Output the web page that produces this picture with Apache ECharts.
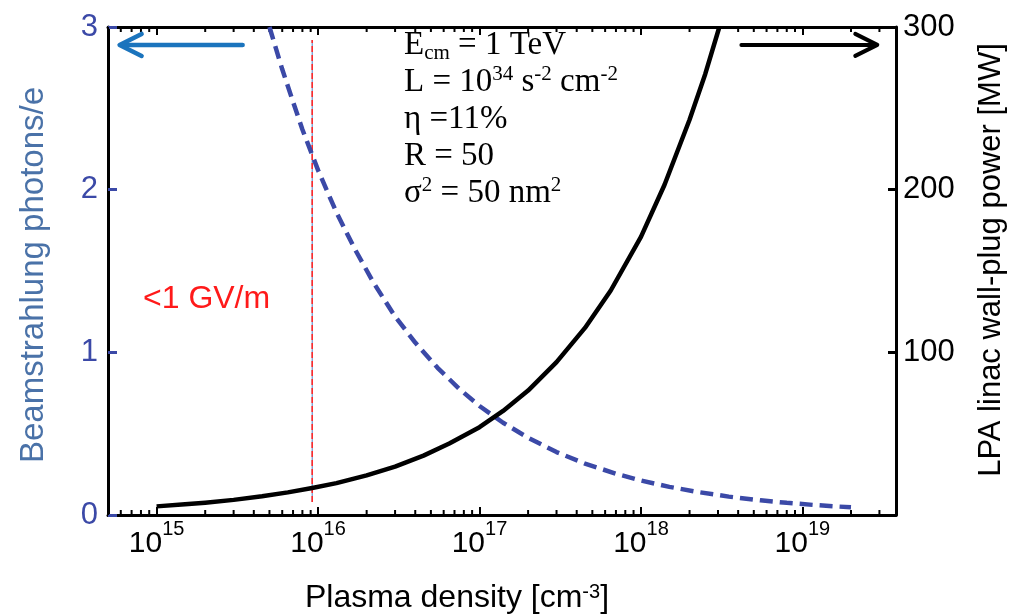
<!DOCTYPE html>
<html><head><meta charset="utf-8">
<script src="https://cdn.jsdelivr.net/npm/echarts@6/dist/echarts.min.js"></script>
<style>html,body{margin:0;padding:0;background:#fff}#c{width:1016px;height:615px}</style>
</head><body><div id="c"></div>
<script>
// ---- data ----
const densityBeam   = [5e15, 6e15, 7e15, 8e15, 1e16, 1.3e16, 1.7e16, 2.2e16, 3e16, 4e16, 5.5e16, 7.5e16, 1e17, 1.4e17, 2e17, 3e17, 4.5e17, 7e17, 1e18, 1.5e18, 2.2e18, 3.5e18, 5.5e18, 8e18, 1.2e19, 2e19];
const beamPhotons   = [3.0, 2.74, 2.54, 2.37, 2.12, 1.86, 1.63, 1.43, 1.22, 1.06, 0.905, 0.775, 0.67, 0.567, 0.475, 0.387, 0.316, 0.254, 0.212, 0.173, 0.143, 0.113, 0.09, 0.075, 0.061, 0.047];
const densityPower  = [1e15, 1.5e15, 2e15, 3e15, 4.5e15, 6.5e15, 9.2e15, 1.3e16, 2e16, 3e16, 4.5e16, 6.5e16, 1e17, 1.4e17, 2e17, 3e17, 4.5e17, 6.5e17, 1e18, 1.4e18, 2e18, 2.5e18, 3.06e18];
const wallPlugPower = [5.3, 6.6, 7.6, 9.3, 11.5, 13.9, 16.6, 19.6, 24.4, 29.8, 36.5, 44, 54, 64, 76.5, 94, 115, 138, 171, 203, 243, 271, 300];
const gradientLimitDensity = 9.2e15;       // "<1 GV/m" marker
const gradientLimitSpan = [0.08, 2.92];     // on left axis
const leftTicks = [0, 1, 2, 3];
const rightTicks = [0, 100, 200, 300];
const xDecades = [15, 16, 17, 18, 19];
const minorMantissas = [2, 3, 4, 5, 6, 7, 8, 9];
const minorDecades = [14, 15, 16, 17, 18, 19];
const arrowLeft  = [3.41e15, 2.89, 5.9e14, 2.89];   // tail x, tail y, tip x, tip y (left axis)
const arrowRight = [4.19e18, 289, 2.91e19, 289];    // (right axis)

const X_MIN = 5e14, X_MAX = 3.8e19;
const minorTicks = [];
minorDecades.forEach(d => minorMantissas.forEach(m => {
  const v = m * Math.pow(10, d);
  if (v > X_MIN && v < X_MAX) minorTicks.push([v, 0]);
}));

const SANS = 'Liberation Sans';
const SERIF = 'Liberation Serif';
const BLUE = '#3b49a7';

function xfmt(v) {
  const l = Math.log10(v), r = Math.round(l);
  if (Math.abs(l - r) > 1e-6 || xDecades.indexOf(r) < 0) return '';
  return '{b|10}{s|' + r + '}';
}

function arrowItem(color, lw) {
  return function (params, api) {
    const tail = api.coord([api.value(0), api.value(1)]);
    const tip = api.coord([api.value(2), api.value(3)]);
    const dir = Math.sign(tip[0] - tail[0]);
    return { type: 'group', children: [
      { type: 'line', shape: { x1: tail[0], y1: tail[1], x2: tip[0] - dir * 2, y2: tip[1] },
        style: { stroke: color, lineWidth: lw, lineCap: 'round' } },
      { type: 'polyline', shape: { points: [[tip[0] - dir * 22, tip[1] - 11], [tip[0], tip[1]], [tip[0] - dir * 22, tip[1] + 11]] },
        style: { stroke: color, lineWidth: lw, fill: null, lineCap: 'round', lineJoin: 'round' } }
    ]};
  };
}

const chart = echarts.init(document.getElementById('c'), null, { renderer: 'canvas' });
const option = {
  animation: false,
  backgroundColor: '#fff',
  grid: { left: 108, right: 120, top: 27, bottom: 100, containLabel: false, outerBoundsMode: 'none' },
  xAxis: [
    { type: 'log', logBase: 10, min: X_MIN, max: X_MAX, position: 'bottom',
      axisLine: { show: true, onZero: false, lineStyle: { color: '#000', width: 3 } },
      axisTick: { show: true, inside: true, length: 8, lineStyle: { color: '#000', width: 2 } },
      minorTick: { show: false }, splitLine: { show: false },
      axisLabel: { margin: 4, color: '#000', formatter: xfmt,
        rich: {
          b: { fontFamily: SANS, fontSize: 30, lineHeight: 40, verticalAlign: 'bottom', color: '#000' },
          s: { fontFamily: SANS, fontSize: 20, lineHeight: 22, verticalAlign: 'top', color: '#000' }
        } },
      name: '{p|Plasma density [cm}{s|-3}{p|]}', nameLocation: 'middle', nameGap: 65,
      nameTextStyle: { padding: [0, 90, 0, 0], rich: {
        p: { fontFamily: SANS, fontSize: 32, lineHeight: 36, color: '#000' },
        s: { fontFamily: SANS, fontSize: 20, lineHeight: 36, verticalAlign: 'top', color: '#000', padding: [2, 0, 0, 0] }
      } }
    },
    { type: 'log', logBase: 10, min: X_MIN, max: X_MAX, position: 'top',
      axisLine: { show: true, onZero: false, lineStyle: { color: '#000', width: 3 } },
      axisTick: { show: true, inside: true, length: 8, lineStyle: { color: '#000', width: 2 } },
      axisLabel: { show: false }, splitLine: { show: false }, minorTick: { show: false } }
  ],
  yAxis: [
    { type: 'value', min: leftTicks[0], max: leftTicks[leftTicks.length - 1], interval: 1, position: 'left',
      axisLine: { show: true, onZero: false, lineStyle: { color: '#000', width: 3 } },
      axisTick: { show: true, inside: true, length: 9, lineStyle: { color: BLUE, width: 3 } },
      splitLine: { show: false },
      axisLabel: { margin: 10, color: BLUE, fontFamily: SANS, fontSize: 31 },
      name: 'Beamstrahlung photons/e', nameLocation: 'middle', nameGap: 58, nameRotate: 90,
      nameTextStyle: { color: '#4a72a8', fontFamily: SANS, fontSize: 33, padding: [0, 8, 0, 0] }
    },
    { type: 'value', min: rightTicks[0], max: rightTicks[rightTicks.length - 1], interval: 100, position: 'right',
      axisLine: { show: true, onZero: false, lineStyle: { color: '#000', width: 3 } },
      axisTick: { show: true, inside: true, length: 8, lineStyle: { color: '#000', width: 3 } },
      splitLine: { show: false },
      axisLabel: { margin: 7, color: '#000', fontFamily: SANS, fontSize: 31,
        formatter: v => (v === 0 ? '' : String(v)) },
      name: 'LPA linac wall-plug power [MW]', nameLocation: 'middle', nameGap: 80, nameRotate: 90,
      nameTextStyle: { color: '#000', fontFamily: SANS, fontSize: 31, padding: [0, 0, 0, 22] }
    }
  ],
  series: [
    { name: 'minor ticks', type: 'custom', xAxisIndex: 0, yAxisIndex: 0, silent: true, clip: false,
      data: minorTicks, encode: { x: 0, y: 1 },
      renderItem: function (params, api) {
        const v = api.value(0);
        const b = api.coord([v, leftTicks[0]]);
        const t = api.coord([v, leftTicks[leftTicks.length - 1]]);
        return { type: 'group', children: [
          { type: 'line', shape: { x1: b[0], y1: b[1], x2: b[0], y2: b[1] - 5 }, style: { stroke: '#000', lineWidth: 2 } },
          { type: 'line', shape: { x1: t[0], y1: t[1], x2: t[0], y2: t[1] + 5 }, style: { stroke: '#000', lineWidth: 2 } }
        ]};
      } },
    { name: 'gradient limit underlay', type: 'line', xAxisIndex: 0, yAxisIndex: 0, silent: true,
      data: gradientLimitSpan.map(y => [gradientLimitDensity, y]), showSymbol: false,
      lineStyle: { color: '#4a7fc4', width: 1 } },
    { name: 'gradient limit', type: 'line', xAxisIndex: 0, yAxisIndex: 0, silent: true,
      data: gradientLimitSpan.map(y => [gradientLimitDensity, y]), showSymbol: false,
      lineStyle: { color: '#ff2a2a', width: 1.6, type: [6, 3] } },
    { name: 'Beamstrahlung', type: 'line', xAxisIndex: 0, yAxisIndex: 0, silent: true,
      data: densityBeam.map((x, i) => [x, beamPhotons[i]]), showSymbol: false, smooth: false,
      lineStyle: { color: BLUE, width: 4.5, type: [13, 7] } },
    { name: 'Wall-plug power', type: 'line', xAxisIndex: 0, yAxisIndex: 1, silent: true,
      data: densityPower.map((x, i) => [x, wallPlugPower[i]]), showSymbol: false, smooth: false,
      lineStyle: { color: '#000', width: 4.5, join: 'round' } },
    { name: 'arrow left', type: 'custom', xAxisIndex: 0, yAxisIndex: 0, silent: true, clip: false,
      data: [arrowLeft], renderItem: arrowItem('#1b74bd', 4.5) },
    { name: 'arrow right', type: 'custom', xAxisIndex: 0, yAxisIndex: 1, silent: true, clip: false,
      data: [arrowRight], renderItem: arrowItem('#000', 4) }
  ],
  graphic: [
    { type: 'text', left: 143, top: 283, silent: true,
      style: { text: '<1 GV/m', fill: '#ff1a1a', font: '32px "Liberation Sans"' } },
    { type: 'text', left: 404, top: 29, silent: true,
      style: {
        text: '{n|E}{sub|cm}{n| = 1 TeV}\n{n|L = 10}{sup|34}{n| s}{sup|-2}{n| cm}{sup|-2}\n{n|η =11%}\n{n|R = 50}\n{n|σ}{sup|2}{n| = 50 nm}{sup|2}',
        rich: {
          n: { fontFamily: SERIF, fontSize: 33, lineHeight: 37, fill: '#000', verticalAlign: 'middle' },
          sup: { fontFamily: SERIF, fontSize: 21, lineHeight: 35, fill: '#000', verticalAlign: 'top' },
          sub: { fontFamily: SERIF, fontSize: 21, lineHeight: 12, fill: '#000', verticalAlign: 'bottom' }
        }
      } }
  ]
};
chart.setOption(option);
</script>
</body></html>
